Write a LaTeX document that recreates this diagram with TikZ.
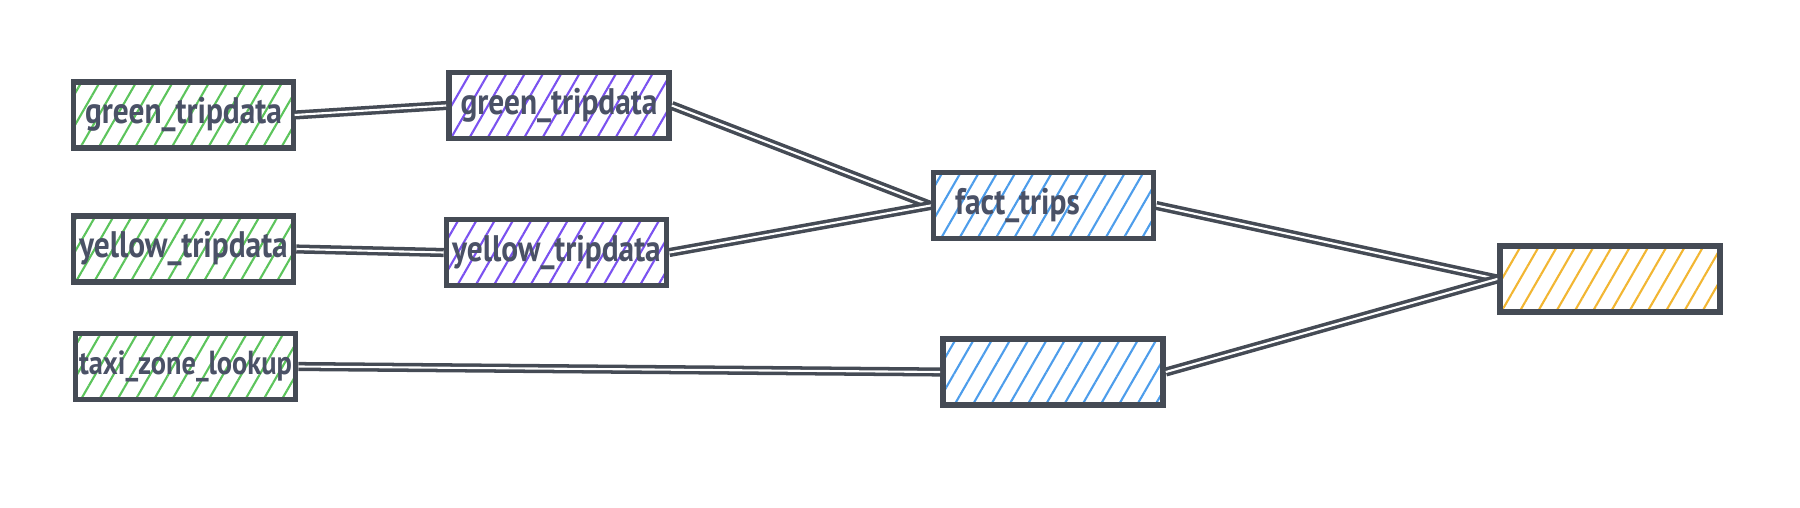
\documentclass[tikz,border=0pt]{standalone}
\usepackage{fontspec}
\setmainfont[FakeStretch=0.85]{PT Sans}
\usetikzlibrary{positioning,patterns.meta}
\definecolor{inkGrey}{HTML}{454B55}
\definecolor{textSlate}{HTML}{4A5166}
\definecolor{srcGreen}{HTML}{5CC45C}
\definecolor{stgViolet}{HTML}{7B52F0}
\definecolor{coreBlue}{HTML}{4D9DEB}
\definecolor{martGold}{HTML}{F2B632}

\begin{document}
\begin{tikzpicture}[
    every node/.style={font=\bfseries\fontsize{10.5}{12.5}\selectfont, text=textSlate},
    model/.style={draw=inkGrey, line width=1.6pt, minimum width=2.2cm, minimum height=0.66cm,
                  inner sep=0pt, pattern={Lines[angle=60, distance=4.5pt, line width=0.6pt]}},
    source/.style={model, pattern color=srcGreen},
    staging/.style={model, pattern color=stgViolet},
    core/.style={model, pattern color=coreBlue},
    mart/.style={model, pattern color=martGold},
    link/.style={draw=inkGrey, line width=1pt, double=white, double distance=0.6pt},
  ]
  \useasboundingbox (0,0) rectangle (18,-5.08);

  % Sources
  \node[source] (gsrc) at (1.835,-1.15) {green\_tripdata};
  \node[source] (ysrc) at (1.835,-2.49) {yellow\_tripdata};
  \node[source, font=\bfseries\fontsize{9.5}{11}\selectfont] (taxi) at (1.855,-3.665) {taxi\_zone\_lookup};

  % Staging
  \node[staging] (gstg) at (5.59,-1.055) {green\_tripdata};
  \node[staging] (ystg) at (5.565,-2.525) {yellow\_tripdata};

  % Core
  \node[core] (fact) at (10.435,-2.055) {};
  \node[anchor=west] (factname) at ([xshift=0.12cm]fact.west) {fact\_trips};
  \node[core] (dimz) at (10.53,-3.72) {};

  % Mart
  \node[mart] (mart) at (16.10,-2.79) {};

  % Edges
  \draw[link] (gsrc.east) -- (gstg.west);
  \draw[link] (ysrc.east) -- (ystg.west);
  \draw[link] (taxi.east) -- (dimz.west);
  \draw[link] (gstg.east) -- (fact.west);
  \draw[link] (ystg.east) -- (fact.west);
  \draw[link] (fact.east) -- (mart.west);
  \draw[link] (dimz.east) -- (mart.west);
\end{tikzpicture}
\end{document}
